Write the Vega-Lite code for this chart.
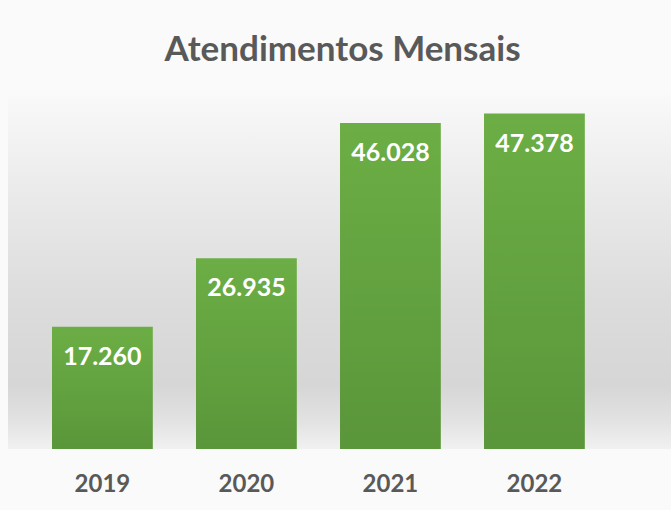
{
  "$schema": "https://vega.github.io/schema/vega-lite/v6.json",
  "width": 663,
  "height": 354,
  "autosize": {"type": "none"},
  "padding": {"left": 8, "top": 95, "right": 0, "bottom": 61},
  "background": "#fafafa",
  "title": {
    "text": "Atendimentos Mensais",
    "font": "Lato",
    "fontSize": 35,
    "fontWeight": "bold",
    "color": "#595959",
    "anchor": "middle",
    "baseline": "alphabetic",
    "offset": -1,
    "dx": 3
  },
  "config": {"view": {"stroke": null}},
  "layer": [
    {
      "data": {"values": [{"bg": 1}]},
      "mark": {
        "type": "rect",
        "color": {
          "gradient": "linear",
          "x1": 0, "y1": 0, "x2": 0, "y2": 1,
          "stops": [
            {"offset": 0, "color": "#f9f9f9"},
            {"offset": 0.3, "color": "#e9e9e9"},
            {"offset": 0.58, "color": "#dcdcdc"},
            {"offset": 0.82, "color": "#d6d6d6"},
            {"offset": 0.92, "color": "#e2e2e2"},
            {"offset": 1, "color": "#f1f1f1"}
          ]
        }
      },
      "encoding": {}
    },
    {
      "data": {
        "values": [
          {"ano": "2019", "valor": 17260, "rotulo": "17.260"},
          {"ano": "2020", "valor": 26935, "rotulo": "26.935"},
          {"ano": "2021", "valor": 46028, "rotulo": "46.028"},
          {"ano": "2022", "valor": 47378, "rotulo": "47.378"}
        ]
      },
      "encoding": {
        "x": {
          "field": "ano",
          "type": "nominal",
          "scale": {"paddingInner": 0.3, "paddingOuter": 0.452, "align": 0.338},
          "axis": {
            "title": null,
            "labelAngle": 0,
            "ticks": false,
            "domain": false,
            "labelFont": "Lato",
            "labelFontSize": 24,
            "labelFontWeight": "bold",
            "labelColor": "#595959",
            "labelPadding": 23
          }
        },
        "y": {
          "field": "valor",
          "type": "quantitative",
          "scale": {"domain": [0, 50000], "nice": false},
          "axis": null
        }
      },
      "layer": [
        {
          "mark": {
            "type": "bar",
            "color": {
              "gradient": "linear",
              "x1": 0, "y1": 0, "x2": 0, "y2": 1,
              "stops": [
                {"offset": 0, "color": "#6cae45"},
                {"offset": 1, "color": "#5a963a"}
              ]
            }
          }
        },
        {
          "mark": {
            "type": "text",
            "baseline": "top",
            "dy": 18,
            "font": "Lato",
            "fontSize": 25,
            "fontWeight": "bold",
            "color": "white"
          },
          "encoding": {"text": {"field": "rotulo", "type": "nominal"}}
        }
      ]
    }
  ]
}
